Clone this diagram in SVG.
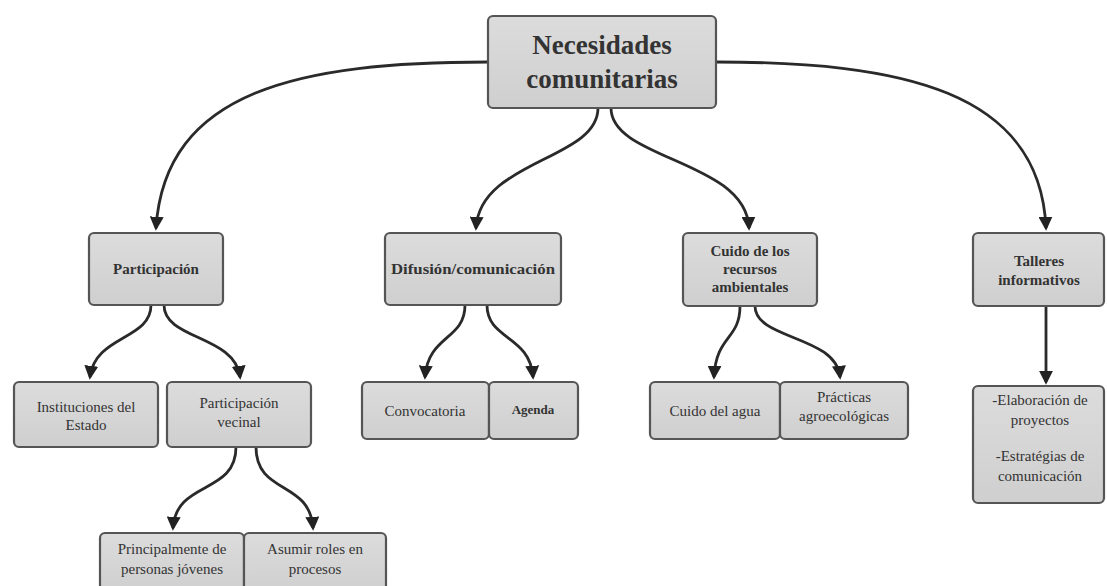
<svg xmlns="http://www.w3.org/2000/svg" width="1107" height="586" viewBox="0 0 1107 586">
<defs>
<linearGradient id="g" x1="0" y1="0" x2="0" y2="1">
<stop offset="0" stop-color="#dcdcdc"/>
<stop offset="1" stop-color="#cfcfcf"/>
</linearGradient>
<marker id="ah" viewBox="0 0 10 10" refX="8" refY="5" markerWidth="5" markerHeight="5" orient="auto" markerUnits="strokeWidth">
<path d="M0,0 L10,5 L0,10 z" fill="#222"/>
</marker>
</defs>
<style>
.box{fill:url(#g);stroke:#555;stroke-width:2.2}
.t{font-family:"Liberation Serif","DejaVu Serif",serif;fill:#333;text-anchor:middle;font-size:15px}
.b{font-weight:bold}
.c{fill:none;stroke:#2a2a2a;stroke-width:2.8;marker-end:url(#ah)}
</style>
<rect width="1107" height="586" fill="#fff"/>
<g id="connectors">
<path class="c" d="M488,62 C300,62 165,90 156,228"/>
<path class="c" d="M716,62 C900,62 1040,90 1046,228"/>
<path class="c" d="M598,108 C598,160 480,160 476,228"/>
<path class="c" d="M611,108 C611,160 746,160 749,228"/>
<path class="c" d="M151,305 C151,340 95,335 90,377"/>
<path class="c" d="M164,305 C164,340 235,335 240,377"/>
<path class="c" d="M465,305 C465,340 428,335 425,377"/>
<path class="c" d="M487,305 C487,340 530,335 533,377"/>
<path class="c" d="M740,306 C740,340 716,335 714,377"/>
<path class="c" d="M755,306 C755,340 836,335 840,377"/>
<path class="c" d="M1046,306 L1046,382"/>
<path class="c" d="M236,447 C236,495 176,480 173,528"/>
<path class="c" d="M256,447 C256,495 310,480 313,528"/>
</g>
<g id="n-root">
<rect class="box" x="488" y="16" width="228" height="92" rx="5"/>
<text class="t b" x="602" y="54" style="font-size:27px">Necesidades</text>
<text class="t b" x="602" y="88" style="font-size:27px">comunitarias</text>
</g>
<g id="n-participacion">
<rect class="box" x="89" y="233" width="134" height="72" rx="5"/>
<text class="t b" x="156" y="274">Participación</text>
</g>
<g id="n-difusion">
<rect class="box" x="385" y="233" width="176" height="72" rx="5"/>
<text class="t b" x="473" y="274" textLength="164" lengthAdjust="spacingAndGlyphs">Difusión/comunicación</text>
</g>
<g id="n-cuido">
<rect class="box" x="683" y="233" width="134" height="73" rx="5"/>
<text class="t b" x="750" y="256">Cuido de los</text>
<text class="t b" x="750" y="274">recursos</text>
<text class="t b" x="750" y="292">ambientales</text>
</g>
<g id="n-talleres">
<rect class="box" x="973" y="233" width="131" height="73" rx="5"/>
<text class="t b" x="1039" y="266">Talleres</text>
<text class="t b" x="1039" y="285">informativos</text>
</g>
<g id="n-instituciones">
<rect class="box" x="14" y="382" width="144" height="65" rx="5"/>
<text class="t" x="86" y="412">Instituciones del</text>
<text class="t" x="86" y="430">Estado</text>
</g>
<g id="n-vecinal">
<rect class="box" x="167" y="382" width="144" height="65" rx="5"/>
<text class="t" x="239" y="408">Participación</text>
<text class="t" x="239" y="427">vecinal</text>
</g>
<g id="n-convocatoria">
<rect class="box" x="362" y="382" width="127" height="57" rx="5"/>
<text class="t" x="425" y="416">Convocatoria</text>
</g>
<g id="n-agenda">
<rect class="box" x="489" y="382" width="89" height="57" rx="5"/>
<text class="t b" x="533" y="414" style="font-size:13px">Agenda</text>
</g>
<g id="n-agua">
<rect class="box" x="650" y="382" width="130" height="57" rx="5"/>
<text class="t" x="715" y="416">Cuido del agua</text>
</g>
<g id="n-practicas">
<rect class="box" x="780" y="382" width="128" height="57" rx="5"/>
<text class="t" x="844" y="402">Prácticas</text>
<text class="t" x="844" y="421">agroecológicas</text>
</g>
<g id="n-elaboracion">
<rect class="box" x="973" y="386" width="131" height="117" rx="5"/>
<text class="t" x="1040" y="405">-Elaboración de</text>
<text class="t" x="1040" y="425">proyectos</text>
<text class="t" x="1040" y="461">-Estratégias de</text>
<text class="t" x="1040" y="481">comunicación</text>
</g>
<g id="n-jovenes">
<rect class="box" x="100" y="533" width="144" height="60" rx="5"/>
<text class="t" x="172" y="554">Principalmente de</text>
<text class="t" x="172" y="574">personas jóvenes</text>
</g>
<g id="n-roles">
<rect class="box" x="244" y="533" width="142" height="60" rx="5"/>
<text class="t" x="315" y="554">Asumir roles en</text>
<text class="t" x="315" y="574">procesos</text>
</g>
</svg>
